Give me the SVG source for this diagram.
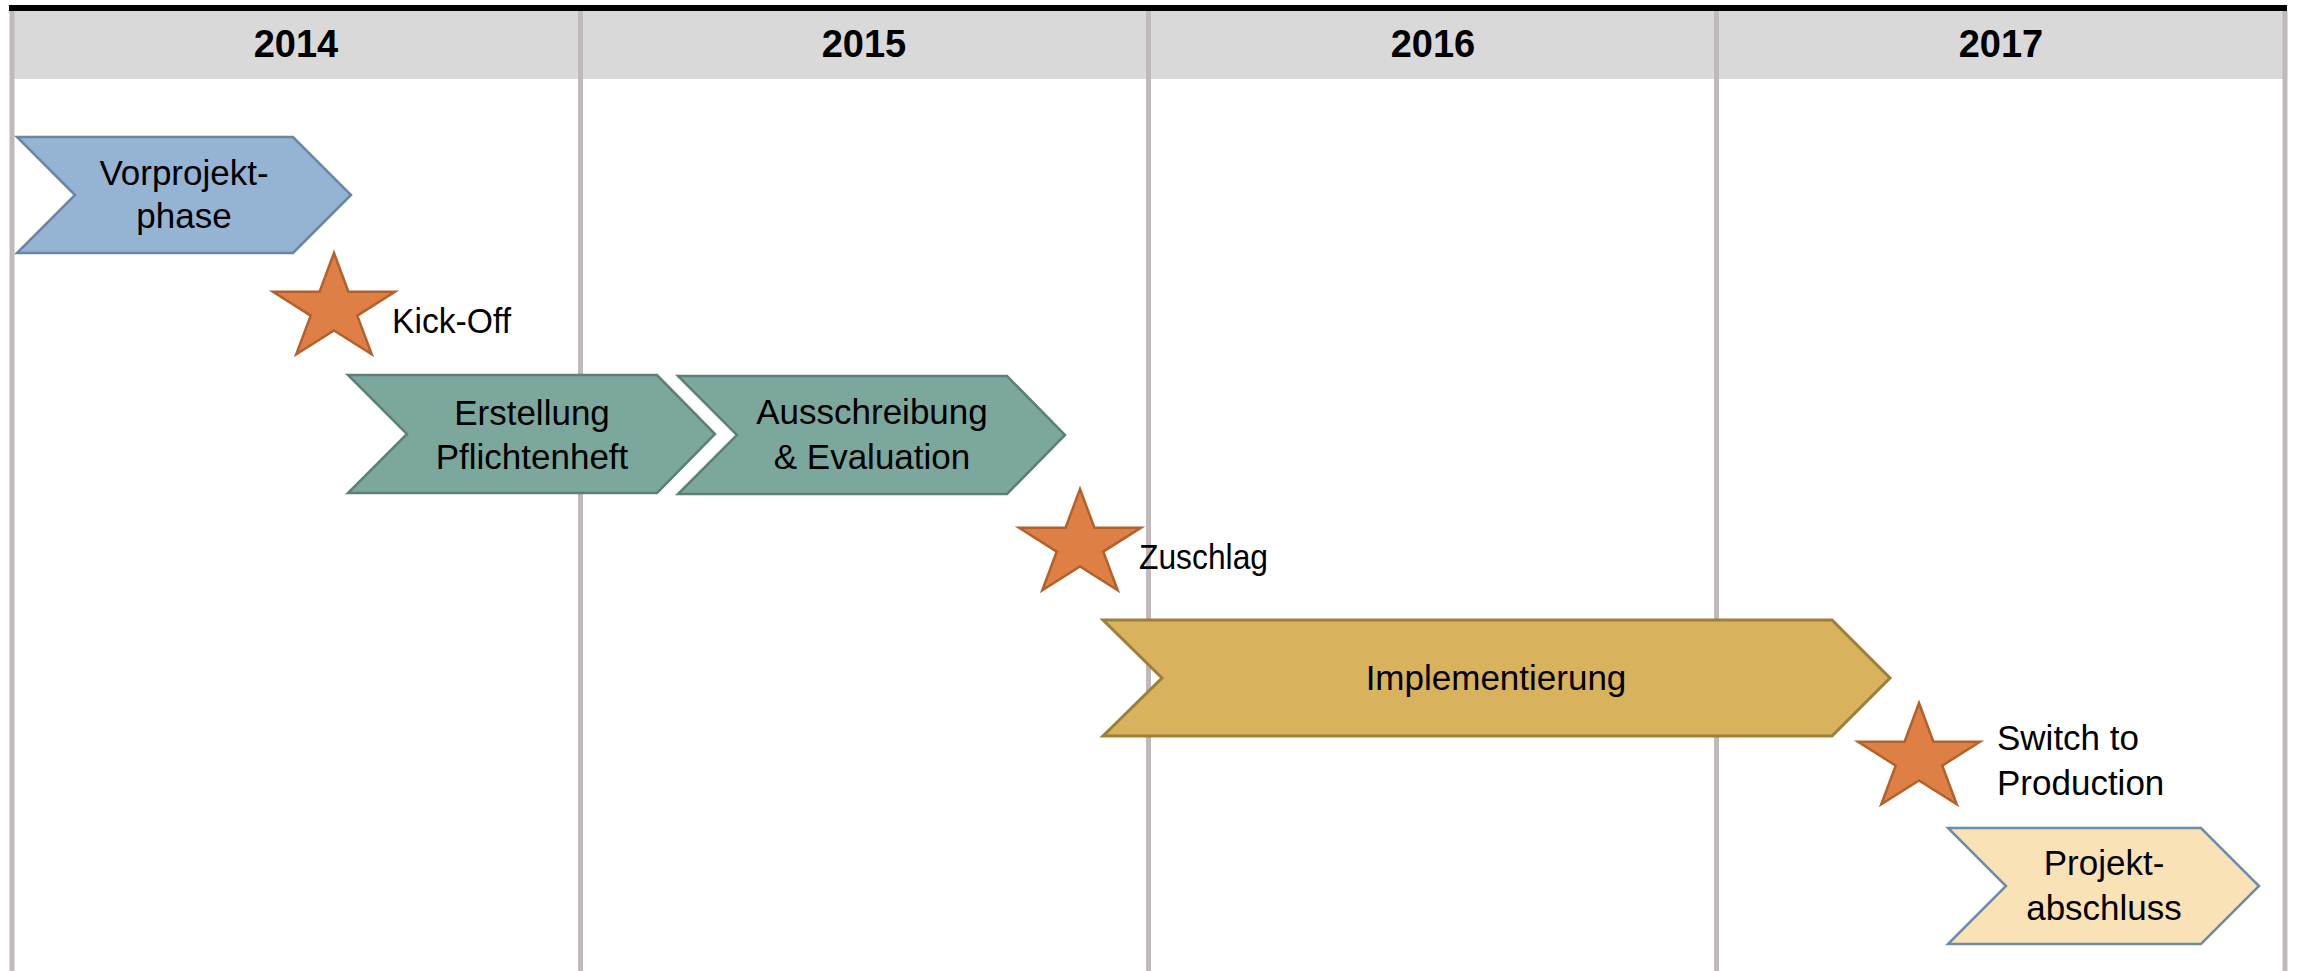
<svg xmlns="http://www.w3.org/2000/svg" xmlns:xlink="http://www.w3.org/1999/xlink" width="2297" height="971" viewBox="0 0 2297 971">
  <style>
    .grid { stroke: #C0B9B9; stroke-width: 5; }
    .year { font-family: "Liberation Sans", Arial, sans-serif; font-weight: bold; font-size: 38px; fill: #000; text-anchor: middle; }
    .lbl { font-family: "Liberation Sans", Arial, sans-serif; font-size: 35px; fill: #000; }
    .mid { text-anchor: middle; }
    .star { fill: #DE7F45; stroke: #B4602A; stroke-width: 2.5; stroke-linejoin: miter; }
    .blue { fill: #95B3D3; stroke: #6A86A3; stroke-width: 2.5; }
    .green { fill: #7BA79D; stroke: #5C8077; stroke-width: 2.5; }
    .gold { fill: #D8B25C; stroke: #9C7F3A; stroke-width: 3; }
    .cream { fill: #F9E2B6; stroke: #6E8BA8; stroke-width: 2.5; }
  </style>
  <defs>
    <polygon id="star5" points="0,-56 14.4,-17.3 61,-17.3 23.3,6.6 37.7,45.3 0,21.4 -37.7,45.3 -23.3,6.6 -61,-17.3 -14.4,-17.3"/>
  </defs>
  <rect width="2297" height="971" fill="#FFFFFF"/>
  <g id="header">
    <rect x="12" y="11" width="2273" height="68" fill="#D9D9D9"/>
    <rect x="9" y="5" width="2278" height="6" fill="#000000"/>
  </g>
  <g id="gridlines">
    <line class="grid" x1="12" y1="11" x2="12" y2="971"/>
    <line class="grid" x1="580.5" y1="11" x2="580.5" y2="971"/>
    <line class="grid" x1="1148.5" y1="11" x2="1148.5" y2="971"/>
    <line class="grid" x1="1716.5" y1="11" x2="1716.5" y2="971"/>
    <line class="grid" x1="2285" y1="11" x2="2285" y2="971"/>
  </g>
  <g id="years">
    <text class="year" x="296" y="57">2014</text>
    <text class="year" x="864" y="57">2015</text>
    <text class="year" x="1433" y="57">2016</text>
    <text class="year" x="2001" y="57">2017</text>
  </g>
  <g id="connectors"></g>
  <g id="vorprojektphase">
    <path class="blue" d="M17,137 L293,137 L351,195 L293,253 L17,253 L75,195 Z"/>
    <text class="lbl mid" x="184" y="185">Vorprojekt-</text>
    <text class="lbl mid" x="184" y="228">phase</text>
  </g>
  <g id="kickoff">
    <use xlink:href="#star5" href="#star5" class="star" transform="translate(334,309)"/>
    <text class="lbl" x="392" y="333" textLength="119" lengthAdjust="spacingAndGlyphs">Kick-Off</text>
  </g>
  <g id="erstellung">
    <path class="green" d="M348,375 L657,375 L715,434 L657,493 L348,493 L407,434 Z"/>
    <text class="lbl mid" x="532" y="425">Erstellung</text>
    <text class="lbl mid" x="532" y="469">Pflichtenheft</text>
  </g>
  <g id="ausschreibung">
    <path class="green" d="M678,376 L1007,376 L1065,435 L1007,494 L678,494 L737,435 Z"/>
    <text class="lbl mid" x="872" y="424">Ausschreibung</text>
    <text class="lbl mid" x="872" y="469">&amp; Evaluation</text>
  </g>
  <g id="zuschlag">
    <use xlink:href="#star5" href="#star5" class="star" transform="translate(1080,545)"/>
    <text class="lbl" x="1139" y="569" textLength="129" lengthAdjust="spacingAndGlyphs">Zuschlag</text>
  </g>
  <g id="implementierung">
    <path class="gold" d="M1103,620 L1832,620 L1890,678 L1832,736 L1103,736 L1162,678 Z"/>
    <text class="lbl mid" x="1496" y="690">Implementierung</text>
  </g>
  <g id="switch">
    <use xlink:href="#star5" href="#star5" class="star" transform="translate(1919,759)"/>
    <text class="lbl" x="1997" y="750">Switch to</text>
    <text class="lbl" x="1997" y="795">Production</text>
  </g>
  <g id="projektabschluss">
    <path class="cream" d="M1948,828 L2201,828 L2259,886 L2201,944 L1948,944 L2006,886 Z"/>
    <text class="lbl mid" x="2104" y="875">Projekt-</text>
    <text class="lbl mid" x="2104" y="920">abschluss</text>
  </g>
</svg>
